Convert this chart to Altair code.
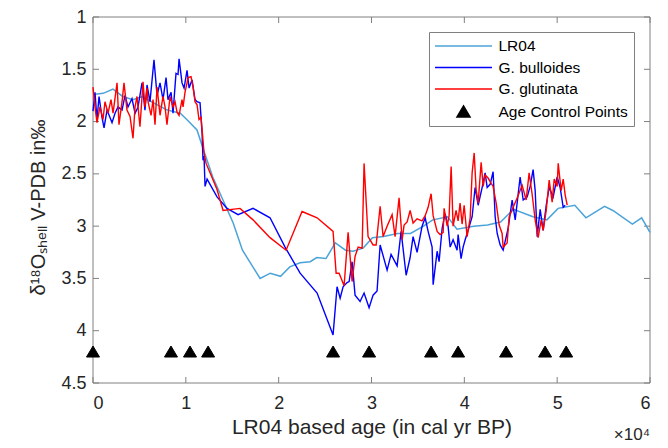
import altair as alt
import pandas as pd

# ---------------- data ----------------
lr04_age = [0, 1100, 2150, 3200, 4300, 5300, 6500, 8000, 9400, 10100,
            11200, 11900, 12900, 14000, 15100, 16100, 18000, 19100, 20200, 21200,
            22300, 23400, 24100, 25100, 26100, 27200, 28000, 29100, 30100, 31300,
            32800, 34200, 35600, 36600, 38200, 39200, 41000, 42500, 43900, 45300,
            47400, 48900, 50100, 51900, 53100, 55100, 56000, 58100, 59100, 60000]
lr04_d18o = [1.74, 1.73, 1.69, 1.76, 1.79, 1.76, 1.82, 1.89, 1.92, 1.98,
             2.08, 2.27, 2.53, 2.75, 2.97, 3.23, 3.50, 3.45, 3.48, 3.39,
             3.35, 3.34, 3.30, 3.31, 3.16, 3.23, 3.24, 3.21, 3.11, 3.10,
             3.07, 3.07, 3.00, 2.94, 2.91, 3.03, 3.00, 2.99, 2.96, 2.84,
             2.91, 2.94, 2.83, 2.80, 2.92, 2.81, 2.85, 2.98, 2.92, 3.06]

bul_age = [0, 215, 430, 650, 970, 1190, 1510, 1830, 2050, 2370,
           2690, 3130, 3450, 3770, 4200, 4530, 4850, 5280, 5600, 5820,
           6140, 6570, 6900, 7220, 7540, 7870, 8080, 8410, 8620, 8940,
           9160, 9270, 9590, 9810, 10130, 10350, 10670, 10990, 11210, 11530,
           11750, 11850, 11960, 12070, 12290, 13360, 14440, 15630, 17240, 19070,
           20690, 22310, 24140, 25860, 26290, 26620, 26940, 27370, 27590, 27910,
           28230, 28770, 29200, 29740, 30170, 30600, 30930, 31680, 32110, 32760,
           33190, 33730, 34160, 34480, 34910, 35450, 35780, 36100, 36530, 36640,
           37070, 37280, 37610, 37930, 38250, 38470, 38790, 39220, 39330, 39650,
           39870, 40090, 40410, 40840, 41160, 41490, 41920, 42240, 42460, 42780,
           43100, 43320, 43540, 43860, 44180, 44720, 45150, 45480, 46010, 46340,
           46770, 47090, 47410, 47630, 47850, 48170, 48490, 48820, 49140, 49570,
           50000, 50320, 50650, 50860]
bul_d18o = [1.90, 1.72, 1.98, 1.76, 1.96, 2.06, 1.89, 1.96, 2.01, 1.92,
            1.86, 1.89, 1.75, 1.86, 1.78, 1.92, 1.86, 1.63, 1.89, 1.65,
            1.81, 1.41, 1.75, 1.63, 1.79, 1.58, 1.79, 1.72, 1.92, 1.54,
            1.55, 1.40, 1.63, 1.68, 1.51, 1.68, 1.60, 1.79, 1.81, 1.82,
            2.11, 2.37, 2.33, 2.62, 2.55, 2.72, 2.83, 2.89, 2.83, 2.92,
            3.20, 3.45, 3.64, 4.04, 3.58, 3.69, 3.58, 3.54, 3.53, 3.34,
            3.66, 3.72, 3.64, 3.78, 3.66, 3.62, 3.18, 3.42, 3.27, 3.38,
            3.05, 3.47, 3.30, 3.10, 3.25, 3.00, 2.92, 3.05, 3.20, 3.56,
            3.24, 3.34, 3.02, 2.88, 3.00, 3.20, 3.13, 3.23, 3.08, 3.31,
            3.20, 3.13, 3.04, 2.91, 2.63, 2.80, 2.63, 2.49, 2.63, 2.60,
            2.48, 2.91, 3.07, 3.18, 3.23, 3.02, 2.75, 2.94, 2.53, 2.75,
            2.72, 2.62, 2.46, 2.66, 3.10, 2.84, 3.04, 2.80, 2.63, 2.72,
            2.53, 2.63, 2.82, 2.80]

glu_age = [0, 215, 430, 750, 1080, 1290, 1620, 1940, 2160, 2590,
           2800, 3130, 3340, 3660, 3990, 4310, 4530, 4740, 5060, 5390,
           5600, 5820, 5930, 6250, 6470, 6680, 6900, 7220, 7540, 7760,
           7970, 8300, 8620, 8840, 9050, 9270, 9590, 9700, 9910, 10130,
           10240, 10560, 10780, 10990, 11210, 11420, 11640, 11850, 11960, 12180,
           12610, 13360, 14010, 15840, 17240, 19070, 20800, 22520, 24140, 25860,
           26190, 26510, 27050, 27480, 27910, 28230, 28560, 28990, 29200, 29630,
           30170, 30500, 30930, 31250, 31680, 32220, 32540, 32970, 33300, 33510,
           33840, 34160, 34480, 34910, 35450, 35780, 36100, 36420, 36640, 37070,
           37390, 37720, 37820, 38150, 38360, 38580, 38790, 39110, 39330, 39540,
           39760, 39980, 40300, 40630, 40840, 41060, 41270, 41490, 41810, 42030,
           42240, 42560, 42890, 43100, 43430, 43750, 44070, 44180, 44610, 44830,
           45260, 45690, 46230, 46660, 46980, 47310, 47630, 47950, 48280, 48490,
           48820, 49140, 49460, 49680, 50000, 50110, 50430, 50650, 50860, 51080]
glu_d18o = [1.67, 1.86, 2.01, 1.86, 1.98, 1.81, 1.92, 1.79, 1.92, 1.63,
            2.03, 1.81, 1.63, 1.89, 1.95, 2.16, 1.86, 1.76, 2.05, 1.62,
            1.86, 1.68, 1.81, 1.94, 1.79, 2.03, 1.67, 1.94, 1.76, 1.86,
            2.03, 1.76, 1.86, 1.81, 1.91, 1.94, 1.79, 1.86, 1.72, 1.63,
            1.58, 1.57, 1.67, 1.81, 1.84, 1.98, 1.96, 2.18, 2.30, 2.40,
            2.49, 2.65, 2.85, 2.83, 2.94, 3.11, 3.23, 2.86, 2.92, 3.05,
            3.45, 3.45, 3.57, 3.06, 3.53, 3.29, 3.20, 3.21, 2.40, 3.10,
            3.18, 3.18, 2.81, 3.10, 3.00, 2.89, 3.10, 2.73, 3.13, 2.99,
            2.96, 2.85, 2.97, 2.93, 2.95, 2.90, 2.82, 2.69, 2.90, 3.05,
            3.08, 3.06, 2.83, 3.00, 2.90, 2.43, 3.00, 2.85, 2.95, 2.78,
            2.98, 2.80, 3.10, 2.92, 2.49, 2.30, 2.65, 2.78, 2.39, 2.62,
            2.51, 2.54, 2.59, 2.62, 2.78, 2.99, 3.07, 3.20, 3.16, 2.91,
            2.82, 2.73, 2.61, 2.75, 2.49, 2.70, 2.94, 3.11, 2.94, 3.04,
            2.85, 2.56, 2.77, 2.55, 2.62, 2.40, 2.66, 2.55, 2.70, 2.80]

acp_age = [0, 8400, 10450, 12400, 25860, 29740, 36420, 39330, 44500, 48700, 50970]
acp_d18o = [4.2, 4.2, 4.2, 4.2, 4.2, 4.2, 4.2, 4.2, 4.2, 4.2, 4.2]

series_names = ["LR04", "G. bulloides", "G. glutinata", "Age Control Points"]
series_colors = ["#4BA3D8", "#0000FF", "#FF0000", "#000000"]
series_fills = ["transparent", "transparent", "transparent", "#000000"]

x_ticks = [0, 10000, 20000, 30000, 40000, 50000, 60000]
y_ticks = [1, 1.5, 2, 2.5, 3, 3.5, 4, 4.5]
exponent_label = ["\u00d710\u2074"]

x_title = "LR04 based age (in cal yr BP)"
y_title = "\u03b4\u00b9\u2078O\u209b\u2095\u2091\u2097\u2097 V-PDB in\u2030"

# ---------------- style ----------------
W, H = 557, 366
TICK_PX = 6
FONT = "Liberation Sans, Arial, sans-serif"
TXT = "#262626"
BOX = "#808080"
FRAME = "axes frame"
LINE_PATH = "M-4.07,0H4.07"
TRI_PATH = "M0,-0.8L0.93,0.77L-0.93,0.77Z"

all_names = series_names + [FRAME]
all_colors = series_colors + [BOX]
all_fills = series_fills + ["transparent"]
all_shapes = [LINE_PATH, LINE_PATH, LINE_PATH, TRI_PATH, LINE_PATH]

x_lo, x_hi, y_lo, y_hi = x_ticks[0], x_ticks[-1], y_ticks[0], y_ticks[-1]
tick_dx = TICK_PX * (x_hi - x_lo) / W   # tick length along x, in data units
tick_dy = TICK_PX * (y_hi - y_lo) / H   # tick length along y, in data units


def frame(name, ages, vals, width):
    return pd.DataFrame({"age": ages, "d18o": vals, "series": [name] * len(ages),
                         "seg": [name] * len(ages), "ord": list(range(len(ages))),
                         "w": [width] * len(ages)})


lr04_df = frame(series_names[0], lr04_age, lr04_d18o, 1.5)
bul_df = frame(series_names[1], bul_age, bul_d18o, 1.4)
glu_df = frame(series_names[2], glu_age, glu_d18o, 1.4)
acp_df = frame(series_names[3], acp_age, acp_d18o, 1)
exp_df = pd.DataFrame({"age": [x_hi], "d18o": [y_hi], "label": exponent_label})

# axes box and inward tick marks as short polylines built from the axis limits/ticks
seg_rows = []
box_corners = [(x_lo, y_lo), (x_hi, y_lo), (x_hi, y_hi), (x_lo, y_hi), (x_lo, y_lo)]
for i, (a, d) in enumerate(box_corners):
    seg_rows.append({"seg": "box", "ord": i, "age": a, "d18o": d})
for t in x_ticks:
    seg_rows += [{"seg": f"xb{t}", "ord": 0, "age": t, "d18o": y_hi},
                 {"seg": f"xb{t}", "ord": 1, "age": t, "d18o": y_hi - tick_dy},
                 {"seg": f"xt{t}", "ord": 0, "age": t, "d18o": y_lo},
                 {"seg": f"xt{t}", "ord": 1, "age": t, "d18o": y_lo + tick_dy}]
for t in y_ticks:
    seg_rows += [{"seg": f"yl{t}", "ord": 0, "age": x_lo, "d18o": t},
                 {"seg": f"yl{t}", "ord": 1, "age": x_lo + tick_dx, "d18o": t},
                 {"seg": f"yr{t}", "ord": 0, "age": x_hi, "d18o": t},
                 {"seg": f"yr{t}", "ord": 1, "age": x_hi - tick_dx, "d18o": t}]
frame_df = pd.DataFrame(seg_rows)
frame_df["series"] = FRAME
frame_df["w"] = 1.0

# LR04 and the axes frame share one line mark (one layer)
lr04_frame_df = pd.concat([frame_df, lr04_df], ignore_index=True)

xscale = alt.Scale(domain=[x_lo, x_hi], nice=False, zero=False)
yscale = alt.Scale(domain=[y_lo, y_hi], reverse=True, nice=False, zero=False)
stroke_scale = alt.Scale(domain=all_names, range=all_colors)
fill_scale = alt.Scale(domain=all_names, range=all_fills)
shape_scale = alt.Scale(domain=all_names, range=all_shapes)

legend = alt.Legend(
    title=None, orient="none", legendX=336, legendY=15, values=series_names,
    labelFont=FONT, labelFontSize=15.5, labelColor="#000000",
    symbolSize=196, symbolStrokeWidth=1.5, symbolOffset=20.5, labelOffset=27,
    rowPadding=4.5, padding=6, strokeColor=BOX, fillColor="white",
)

ax_x = alt.Axis(orient="bottom", values=x_ticks, labelExpr="datum.value / 10000",
                grid=False, domain=False, ticks=False, tickSize=0,
                labelPadding=11, labelFont=FONT, labelFontSize=18, labelColor=TXT,
                titleFont=FONT, titleFontSize=21, titleFontWeight="normal",
                titleColor=TXT, titlePadding=4)
ax_y = alt.Axis(orient="left", values=y_ticks, format="~g", grid=False, domain=False,
                ticks=False, tickSize=0, labelPadding=7,
                labelFont=FONT, labelFontSize=18, labelColor=TXT, titleFont=FONT,
                titleFontSize=20, titleFontWeight="normal", titleColor=TXT,
                titlePadding=12, titleY=190)


def X():
    return alt.X("age:Q", scale=xscale, axis=ax_x, title=x_title)


def Y():
    return alt.Y("d18o:Q", scale=yscale, axis=ax_y, title=y_title)


def S():
    return alt.Stroke("series:N", scale=stroke_scale, legend=legend)


def line_layer(df):
    return alt.Chart(df).mark_line().encode(
        x=X(), y=Y(), stroke=S(),
        strokeWidth=alt.StrokeWidth("w:Q", scale=None),
        detail="seg:N", order="ord:Q",
    )


lr04 = line_layer(lr04_frame_df)
bul = line_layer(bul_df)
glu = line_layer(glu_df)

acp = alt.Chart(acp_df).mark_point(size=196, filled=True, strokeWidth=1, opacity=1).encode(
    x=X(), y=Y(), stroke=S(),
    fill=alt.Fill("series:N", scale=fill_scale, legend=legend),
    shape=alt.Shape("series:N", scale=shape_scale, legend=legend),
)

expo = alt.Chart(exp_df).mark_text(align="right", baseline="alphabetic", dy=57,
                                   fontSize=17, font=FONT, color=TXT).encode(
    x=X(), y=Y(), text="label:N",
)

chart = alt.layer(lr04, bul, glu, acp, expo).properties(
    width=W, height=H,
    autosize=alt.AutoSizeParams(type="none"),
    padding={"left": 85, "top": 9, "right": 10, "bottom": 63},
).configure_view(strokeWidth=0)

chart.save("out.html", embed_options={"renderer": "svg", "actions": False})
